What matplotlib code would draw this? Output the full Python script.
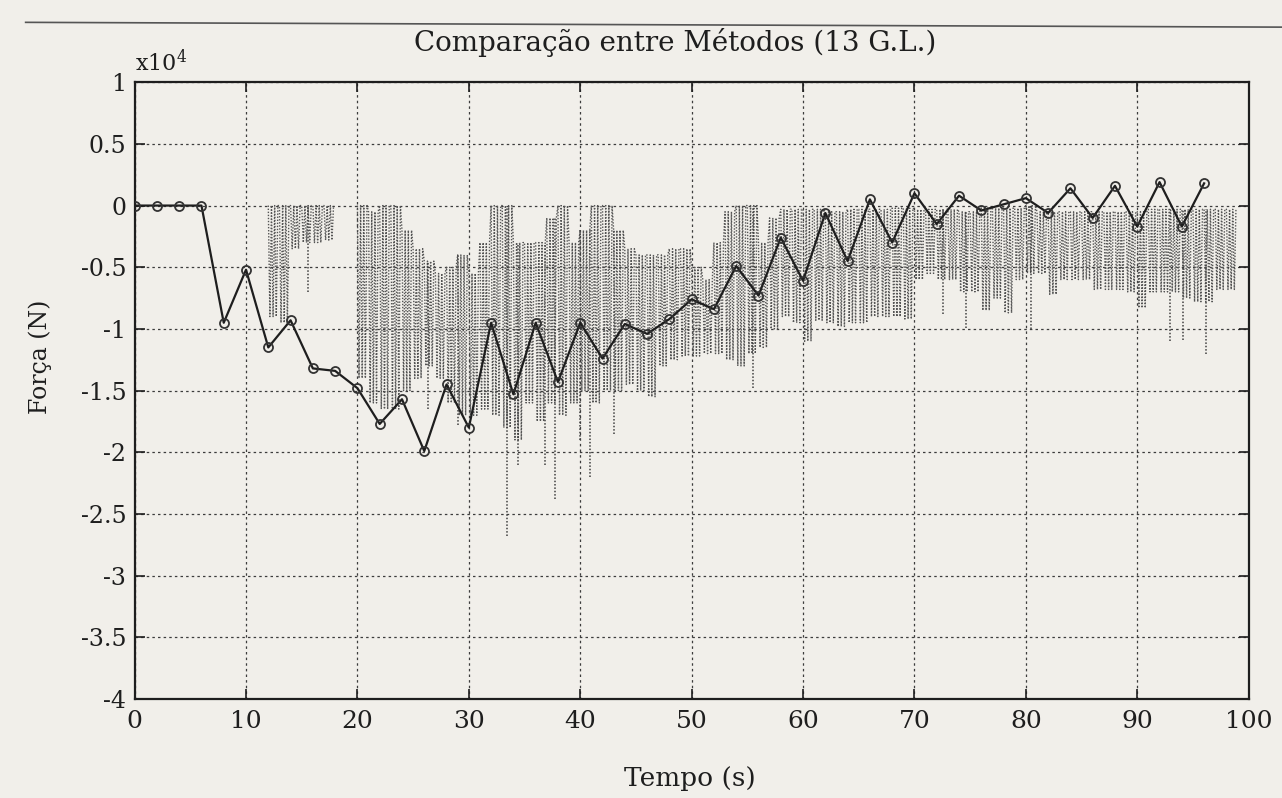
import numpy as np
import matplotlib
matplotlib.use("Agg")
import matplotlib.pyplot as plt
from matplotlib.lines import Line2D
from matplotlib.ticker import FuncFormatter

# forces in units of 10^4 N (axis is labelled "x10^4")
# method 1: coarse solution, one point every 2 s (solid line, open circles)
t_coarse = [0, 2, 4, 6, 8, 10, 12, 14, 16, 18, 20, 22, 24, 26, 28, 30, 32, 34,
            36, 38, 40, 42, 44, 46, 48, 50, 52, 54, 56, 58, 60, 62, 64, 66, 68,
            70, 72, 74, 76, 78, 80, 82, 84, 86, 88, 90, 92, 94, 96]
f_coarse = [0, 0, 0, 0, -0.95, -0.52, -1.15, -0.93, -1.32, -1.34, -1.48, -1.77,
            -1.57, -1.99, -1.45, -1.80, -0.95, -1.53, -0.95, -1.43, -0.95, -1.24,
            -0.96, -1.04, -0.92, -0.76, -0.84, -0.49, -0.73, -0.26, -0.61, -0.06,
            -0.45, 0.05, -0.30, 0.10, -0.15, 0.08, -0.04, 0.01, 0.06, -0.06, 0.14,
            -0.10, 0.16, -0.17, 0.19, -0.17, 0.18]

# method 2: fast oscillating solution (dotted), read as upper / lower envelope
# for each 1 s bin starting at t = 12 s (nan = nothing drawn)
osc_start = 12
osc_hi = [0, 0, 0, 0, 0, 0, np.nan, np.nan,
          0, -0.05, 0, 0, -0.2, -0.35, -0.45, -0.55, -0.5, -0.4,
          -0.55, -0.3, 0, 0, -0.3, -0.3, -0.3, -0.1, 0, -0.3,
          -0.2, 0, 0, -0.2, -0.35, -0.4, -0.4, -0.4, -0.35, -0.35,
          -0.5, -0.6, -0.3, -0.05, 0, 0, -0.3, -0.1, -0.03, -0.03,
          -0.03, -0.03, -0.05, -0.05, -0.03, -0.03, -0.03, -0.03, -0.02, -0.02,
          -0.03, -0.03, -0.03, -0.03, -0.05, -0.05, -0.02, -0.02, -0.02, -0.02,
          0, -0.05, -0.05, -0.05, -0.05, -0.05, -0.05, -0.05, -0.05, -0.05,
          -0.05, -0.03, -0.03, -0.03, -0.03, -0.03, -0.03, -0.03, -0.03]
osc_lo = [-0.9, -0.95, -0.35, -0.3, -0.3, -0.28, np.nan, np.nan,
          -1.4, -1.6, -1.65, -1.65, -1.5, -1.4, -1.3, -1.4, -1.6, -1.7,
          -1.7, -1.65, -1.7, -1.8, -1.9, -1.6, -1.75, -1.6, -1.7, -1.6,
          -1.5, -1.6, -1.5, -1.5, -1.45, -1.5, -1.55, -1.3, -1.25, -1.22,
          -1.22, -1.2, -1.2, -1.25, -1.3, -1.2, -1.15, -1.0, -0.9, -0.95,
          -1.1, -0.93, -0.95, -0.98, -0.95, -0.95, -0.9, -0.9, -0.9, -0.92,
          -0.6, -0.55, -0.6, -0.6, -0.7, -0.7, -0.85, -0.75, -0.87, -0.6,
          -0.55, -0.55, -0.72, -0.6, -0.6, -0.6, -0.68, -0.68, -0.68, -0.7,
          -0.83, -0.7, -0.7, -0.7, -0.75, -0.78, -0.78, -0.68, -0.68]

# isolated deep spikes of the dotted series
spike_t = [15.6, 26.3, 29.0, 33.4, 34.4, 36.8, 37.7, 40.0, 40.9, 43.0,
           55.5, 72.6, 74.6, 80.5, 92.9, 94.1, 96.2]
spike_lo = [-0.7, -1.65, -1.78, -2.68, -2.1, -2.1, -2.38, -1.9, -2.2, -1.85,
            -1.48, -0.88, -0.99, -1.0, -1.1, -1.09, -1.2]

y_ticks = [1, 0.5, 0, -0.5, -1, -1.5, -2, -2.5, -3, -3.5, -4]
x_ticks = [0, 10, 20, 30, 40, 50, 60, 70, 80, 90, 100]

paper = "#f1efea"
ink = "#1e1e1e"

plt.rcParams["font.family"] = ["DejaVu Serif"]
plt.rcParams["mathtext.fontset"] = "dejavuserif"
plt.rcParams["axes.unicode_minus"] = False

fig = plt.figure(figsize=(12.82, 7.98), dpi=100, facecolor=paper)
ax = fig.add_axes([0.105, 0.124, 0.869, 0.773], facecolor=paper)

# dense dotted oscillation: zig-zag between the envelopes inside each bin
strokes = 7
xs, ys = [], []
for i, (hi, lo) in enumerate(zip(osc_hi, osc_lo)):
    t0 = osc_start + i
    if np.isnan(hi):
        xs.append(np.nan)
        ys.append(np.nan)
        continue
    for k in range(strokes):
        xs.append(t0 + k / strokes)
        ys.append(hi if k % 2 == 0 else lo)
ax.plot(xs, ys, color="#555555", lw=1.0, ls=(0, (1, 1.2)), zorder=2)

spike_top = [osc_hi[int(t) - osc_start] for t in spike_t]
ax.vlines(spike_t, spike_lo, spike_top, colors="#404040", lw=1.1,
          linestyles=[(0, (1, 1.2))], zorder=2)

ax.plot(t_coarse, f_coarse, color=ink, lw=1.6, marker="o", ms=6.5,
        mfc="none", mec="#333333", mew=1.3, zorder=3)

ax.set_xlim(0, 100)
ax.set_ylim(-4, 1)
ax.set_xticks(x_ticks)
ax.set_yticks(y_ticks)
ax.yaxis.set_major_formatter(FuncFormatter(lambda v, _: f"{v:g}"))
ax.tick_params(direction="in", length=7, width=1.2, colors=ink,
               top=True, right=True, labelsize=17)
ax.tick_params(axis="x", pad=8, labelsize=18)
ax.tick_params(axis="y", pad=6)
ax.grid(True, color="#3c3c3c", lw=0.9, ls=(0, (2, 2.5)))
for s in ax.spines.values():
    s.set_linewidth(1.6)
    s.set_color(ink)

fig.text(0.527, 0.947, "Comparação entre Métodos (13 G.L.)", ha="center",
         va="center", fontsize=20, color=ink)
fig.text(0.105, 0.905, r"x10$^{4}$", ha="left", va="bottom", fontsize=16, color=ink)
fig.text(0.031, 0.553, "Força (N)", rotation=90, ha="center", va="center",
         fontsize=17, color=ink)
fig.text(0.538, 0.025, "Tempo (s)", ha="center", va="center", fontsize=19, color=ink)

# edge of the scanned page at the top
fig.add_artist(Line2D([0.02, 1.0], [0.972, 0.966], color="#555555", lw=1.2))

fig.savefig("out.png", dpi=100, facecolor=paper)
